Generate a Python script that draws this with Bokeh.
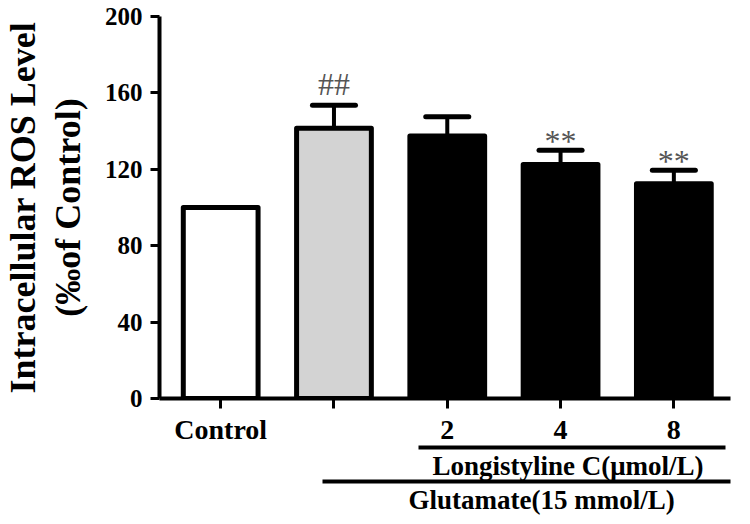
from bokeh.plotting import figure
from bokeh.models import FixedTicker, Range1d, Label, LinearAxis, Title
from bokeh.embed import file_html
from bokeh.resources import INLINE

# ---- data ----
groups = ["Control", "", "2", "4", "8"]
means = [100, 141.5, 137.5, 122.5, 112.5]
errors = [0, 12, 10, 7.5, 7]
fills = ["white", "#d3d3d3", "black", "black", "black"]
marks = ["", "##", "", "**", "**"]
y_ticks = [0, 40, 80, 120, 160, 200]
y_title = "Intracellular ROS Level\n(‰of Control)"
bracket_labels = ["Longistyline C(μmol/L)", "Glutamate(15 mmol/L)"]

FONT = "Liberation Serif"
xs = list(range(len(groups)))

p = figure(width=744, height=524, x_range=Range1d(-0.54, 4.5), y_range=Range1d(0, 200),
           output_backend="svg", toolbar_location=None,
           min_border_left=154, min_border_right=14, min_border_top=16, min_border_bottom=126)
p.outline_line_color = None
p.xgrid.visible = False
p.ygrid.visible = False

# error bar stems (behind bars)
for x, m, e in zip(xs, means, errors):
    if e > 0:
        p.segment(x0=[x], y0=[m], x1=[x], y1=[m + e], line_color="black", line_width=4)

p.vbar(x=xs, top=means, bottom=0, width=0.66, fill_color=fills, line_color="black",
       line_width=5, line_join="round")

# caps
for x, m, e in zip(xs, means, errors):
    if e > 0:
        p.segment(x0=[x - 0.19], y0=[m + e], x1=[x + 0.19], y1=[m + e], line_color="black",
                  line_width=5, line_cap="round")

# significance marks
for x, m, e, t in zip(xs, means, errors, marks):
    if t:
        off = 11 if t.startswith("#") else 5
        p.add_layout(Label(x=x, y=m + e + off, text=t, text_align="center",
                           text_baseline="alphabetic", text_font=FONT,
                           text_font_size="32px", text_color="#555555"))

# axes styling
for ax in (p.xaxis[0], p.yaxis[0]):
    ax.axis_line_width = 4
    ax.axis_line_color = "black"
    ax.major_tick_line_width = 3
    ax.major_tick_line_color = "black"
    ax.major_tick_in = 0
    ax.minor_tick_line_color = None
    ax.major_label_text_font = FONT
    ax.major_label_text_font_style = "bold"
    ax.major_label_text_color = "black"

p.yaxis.ticker = FixedTicker(ticks=y_ticks)
p.yaxis.major_tick_out = 9
p.yaxis.major_label_standoff = 8
p.yaxis.major_label_text_font_size = "25px"
p.yaxis.axis_label = y_title
p.yaxis.axis_label_text_font = FONT
p.yaxis.axis_label_text_font_style = "bold"
p.yaxis.axis_label_text_font_size = "36px"
p.yaxis.axis_label_text_line_height = 1.12
p.yaxis.axis_label_text_color = "black"
p.yaxis.axis_label_standoff = 14

p.xaxis.ticker = FixedTicker(ticks=xs)
p.xaxis.major_label_overrides = {x: g for x, g in zip(xs, groups)}
p.xaxis.major_tick_out = 10
p.xaxis.major_label_standoff = 5
p.xaxis.major_label_text_font_size = "28px"

# group brackets below axis: rule limited by bounds, text as a left-aligned title shifted in
bracket_bounds = [(1.743, 4.456), (0.895, 4.5)]
bracket_text_left = [273, 249]
for (b0, b1), txt, off in zip(bracket_bounds, bracket_labels, bracket_text_left):
    ax = LinearAxis(bounds=(b0, b1), ticker=FixedTicker(ticks=[]), axis_line_width=4,
                    axis_line_color="black", major_tick_line_color=None,
                    minor_tick_line_color=None, major_tick_out=0, major_tick_in=0,
                    major_label_text_font_size="0px")
    p.add_layout(ax, "below")
    p.add_layout(Title(text=txt, align="left", offset=off, standoff=2,
                       text_font=FONT, text_font_style="bold", text_font_size="27px",
                       text_color="black"), "below")

open("out.html", "w").write(file_html(p, INLINE))
